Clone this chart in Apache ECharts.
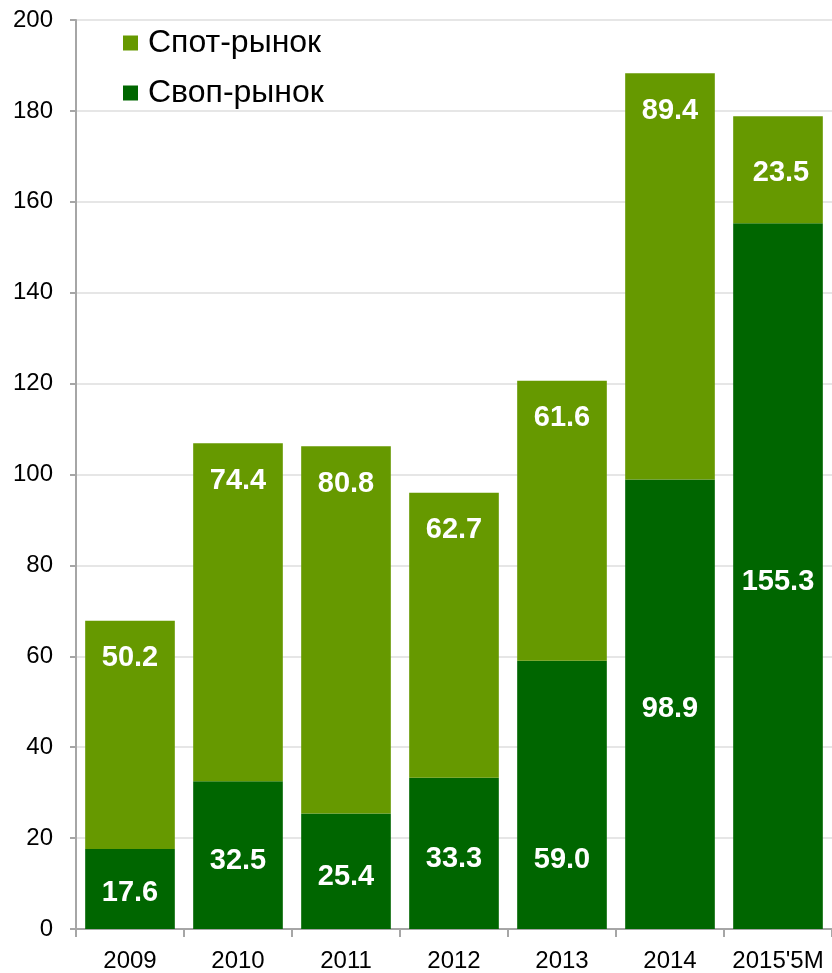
<!DOCTYPE html>
<html>
<head>
<meta charset="utf-8">
<script src="https://cdn.jsdelivr.net/npm/echarts@6/dist/echarts.min.js"></script>
<style>
html,body{margin:0;padding:0;background:#fff;}
#chart{width:832px;height:973px;}
</style>
</head>
<body>
<div id="chart"></div>
<script>
var categories = ['2009', '2010', '2011', '2012', '2013', '2014', "2015'5M"];
var swapValues = [17.6, 32.5, 25.4, 33.3, 59.0, 98.9, 155.3];
var spotValues = [50.2, 74.4, 80.8, 62.7, 61.6, 89.4, 23.5];
var yTicks = [0, 20, 40, 60, 80, 100, 120, 140, 160, 180, 200];

var swapLabelOffsets = [4, 6, 6, 6, 65, 5, 6];
var spotLabelInside = [false, false, false, false, false, false, true];

var chart = echarts.init(document.getElementById('chart'));
var labelBase = {
  show: true,
  color: '#ffffff',
  fontFamily: 'Arial, "Liberation Sans", sans-serif',
  fontWeight: 'bold',
  fontSize: 29,
  lineHeight: 29,
  formatter: function (p) { return Number(p.value).toFixed(1); }
};

var swapData = swapValues.map(function (v, i) {
  return { value: v, label: { position: 'inside', offset: [0, swapLabelOffsets[i]] } };
});
var spotData = spotValues.map(function (v, i) {
  return spotLabelInside[i]
    ? { value: v, label: { position: 'inside', offset: [3, 3] } }
    : { value: v, label: { position: 'insideTop', distance: 23 } };
});

chart.setOption({
  animation: false,
  textStyle: { fontFamily: 'Arial, "Liberation Sans", sans-serif' },
  legend: {
    orient: 'vertical',
    left: 118,
    top: 22,
    itemWidth: 15,
    itemHeight: 15,
    itemGap: 18,
    icon: 'rect',
    data: ['Спот-рынок', 'Своп-рынок'],
    textStyle: { fontSize: 32, color: '#000', padding: [0, 0, 0, 5] }
  },
  grid: { left: 76, top: 20, width: 758, height: 910, containLabel: false },
  xAxis: {
    type: 'category',
    data: categories,
    axisLine: { show: true, lineStyle: { color: '#a6a6a6', width: 2 } },
    axisTick: { show: true, interval: 0, alignWithLabel: false, length: 8, lineStyle: { color: '#a6a6a6', width: 2 } },
    axisLabel: { color: '#000', fontSize: 24, margin: 20, interval: 0, hideOverlap: false },
    splitLine: { show: false }
  },
  yAxis: {
    type: 'value',
    min: yTicks[0],
    max: yTicks[yTicks.length - 1],
    interval: yTicks[1] - yTicks[0],
    axisLine: { show: true, lineStyle: { color: '#a6a6a6', width: 2 } },
    axisTick: { show: true, length: 6, lineStyle: { color: '#a6a6a6', width: 2 } },
    axisLabel: { color: '#000', fontSize: 24, margin: 23 },
    splitLine: { show: true, lineStyle: { color: '#e6e6e6', width: 2 } }
  },
  series: [
    {
      name: 'Своп-рынок',
      type: 'bar',
      stack: 'total',
      barWidth: '83%',
      itemStyle: { color: '#006600' },
      label: labelBase,
      data: swapData
    },
    {
      name: 'Спот-рынок',
      type: 'bar',
      stack: 'total',
      barWidth: '83%',
      itemStyle: { color: '#669900' },
      label: labelBase,
      data: spotData
    }
  ]
});
</script>
</body>
</html>
